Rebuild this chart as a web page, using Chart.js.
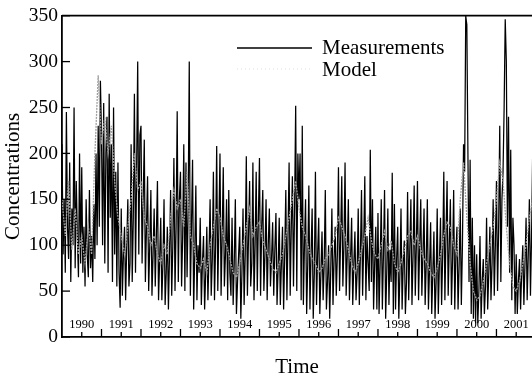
<!DOCTYPE html>
<html>
<head>
<meta charset="utf-8">
<script src="https://cdn.jsdelivr.net/npm/chart.js@4/dist/chart.umd.min.js"></script>
<style>
html,body{margin:0;padding:0;background:#fff;}
#wrap{width:532px;height:380px;position:relative;}
</style>
</head>
<body>
<div id="wrap"><canvas id="c" width="532" height="380"></canvas></div>
<script>
// ---- data ----
const startYear = 1990;
const measStep = 1 / 36;   // three samples per month
const modelStep = 1 / 12;  // one sample per month
const yearLabels = ['1990','1991','1992','1993','1994','1995','1996','1997','1998','1999','2000','2001'];
const yTickValues = [0, 50, 100, 150, 200, 250, 300, 350];
const legendLabels = ['Measurements', 'Model'];

const measurements = [
  // 1990
  210, 90, 150, 70, 245, 120, 85, 190, 60, 140, 100, 250, 75, 170, 110, 65, 200, 80,
  185, 70, 120, 55, 150, 90, 65, 160, 75, 110, 60, 145, 85, 200, 100, 230, 120, 279,
  // 1991
  220, 100, 255, 80, 200, 240, 70, 265, 130, 210, 60, 250, 90, 180, 55, 190, 70, 32,
  140, 45, 90, 120, 40, 100, 150, 55, 80, 210, 60, 130, 265, 70, 180, 300, 90, 220,
  // 1992
  230, 80, 150, 215, 60, 120, 175, 50, 100, 160, 45, 90, 140, 55, 110, 170, 40, 85,
  130, 40, 80, 150, 35, 70, 120, 30, 90, 160, 45, 100, 195, 50, 120, 246, 60, 150,
  // 1993
  180, 55, 110, 210, 50, 190, 65, 140, 300, 45, 120, 193, 30, 90, 165, 40, 100, 70,
  130, 35, 80, 110, 30, 70, 120, 40, 90, 150, 45, 85, 180, 40, 100, 208, 50, 120,
  // 1994
  200, 45, 110, 185, 55, 90, 150, 40, 160, 70, 45, 130, 35, 80, 150, 25, 60, 90,
  120, 20, 70, 140, 35, 90, 197, 45, 110, 170, 55, 80, 190, 40, 100, 180, 50, 130,
  // 1995
  195, 45, 120, 160, 50, 90, 150, 40, 100, 140, 55, 85, 125, 45, 95, 135, 35, 75,
  130, 35, 80, 120, 30, 90, 160, 40, 110, 190, 45, 120, 175, 55, 140, 252, 50, 200,
  // 1996
  150, 200, 40, 230, 35, 100, 150, 25, 80, 165, 30, 90, 140, 20, 70, 180, 35, 90,
  130, 25, 70, 115, 40, 80, 160, 30, 60, 100, 20, 75, 140, 35, 85, 120, 45, 90,
  // 1997
  185, 50, 110, 175, 55, 100, 190, 45, 90, 150, 40, 85, 130, 35, 80, 115, 40, 70,
  140, 35, 90, 160, 45, 100, 175, 40, 110, 80, 50, 204, 60, 150, 30, 80, 120, 30,
  // 1998
  135, 25, 80, 150, 30, 90, 160, 20, 70, 140, 35, 95, 60, 179, 25, 145, 30, 85,
  120, 20, 70, 140, 30, 80, 105, 25, 60, 158, 40, 95, 150, 35, 90, 165, 45, 100,
  // 1999
  170, 40, 100, 150, 45, 90, 140, 35, 80, 150, 30, 75, 125, 25, 70, 115, 20, 60,
  140, 25, 80, 130, 35, 90, 180, 40, 110, 170, 45, 100, 150, 35, 85, 160, 30, 90,
  // 2000
  120, 30, 80, 140, 35, 100, 210, 180, 350, 340, 200, 60, 193, 25, 130, 20, 100, 15,
  90, 15, 50, 110, 20, 60, 85, 25, 55, 130, 30, 70, 120, 40, 80, 150, 45, 100,
  // 2001
  170, 50, 120, 230, 60, 150, 180, 250, 346, 300, 120, 240, 70, 204, 40, 130, 100, 25,
  90, 25, 60, 85, 30, 70, 100, 35, 80, 130, 40, 90, 150, 45, 110, 200, 50, 130
];

const model = [
  150, 110, 170, 95, 140, 90,
  110, 80, 120, 90, 200, 285,
  210, 240, 200, 230, 170, 130,
  110, 90, 120, 150, 200, 160,
  170, 130, 120, 100, 110, 90,
  80, 100, 90, 130, 160, 140,
  150, 120, 180, 110, 100, 80,
  75, 85, 70, 100, 120, 140,
  130, 110, 100, 85, 70, 65,
  80, 100, 120, 140, 110, 120,
  125, 105, 95, 85, 75, 70,
  80, 90, 110, 130, 150, 170,
  140, 120, 110, 95, 85, 80,
  70, 75, 85, 90, 100, 110,
  130, 120, 110, 95, 80, 70,
  80, 95, 110, 130, 105, 90,
  85, 100, 115, 95, 105, 80,
  70, 80, 95, 110, 115, 100,
  110, 95, 85, 80, 70, 65,
  75, 90, 110, 125, 120, 100,
  90, 150, 190, 130, 80, 50,
  40, 45, 60, 80, 100, 120,
  150, 190, 170, 120, 80, 55,
  50, 60, 80, 100, 130, 150
];

// ---- build series ----
const measPoints = measurements.map((v, i) => ({ x: startYear + i * measStep, y: v }));
const modelPoints = model.map((v, i) => ({ x: startYear + i * modelStep, y: v }));

const SERIF = "'Liberation Serif', 'DejaVu Serif', serif";

const decor = {
  id: 'decor',
  afterDatasetsDraw(chart) {
    const { ctx, chartArea: a, scales } = chart;
    const xs = scales.x, ys = scales.y;
    ctx.save();
    ctx.strokeStyle = '#000';
    ctx.fillStyle = '#000';
    // top frame line
    ctx.lineWidth = 1.8;
    ctx.beginPath();
    ctx.moveTo(a.left, a.top);
    ctx.lineTo(a.right, a.top);
    ctx.stroke();
    // inward y ticks
    ctx.lineWidth = 1.3;
    yTickValues.forEach(v => {
      const py = ys.getPixelForValue(v);
      ctx.beginPath();
      ctx.moveTo(a.left, py);
      ctx.lineTo(a.left + 8, py);
      ctx.stroke();
    });
    // inward x ticks (half-years)
    for (let t = startYear + 0.5; t <= xs.max; t += 0.5) {
      const px = xs.getPixelForValue(t);
      const len = Number.isInteger(t) ? 8 : 5;
      ctx.beginPath();
      ctx.moveTo(px, a.bottom);
      ctx.lineTo(px, a.bottom - len);
      ctx.stroke();
    }
    // year labels inside plot
    ctx.font = '12.5px ' + SERIF;
    ctx.textAlign = 'center';
    ctx.textBaseline = 'middle';
    ctx.fillStyle = '#000';
    yearLabels.forEach((lab, i) => {
      const px = xs.getPixelForValue(startYear + i + 0.5);
      ctx.fillText(lab, px, 325);
    });
    // legend
    ctx.lineWidth = 1.5;
    ctx.strokeStyle = '#000';
    ctx.beginPath();
    ctx.moveTo(237, 48);
    ctx.lineTo(312, 48);
    ctx.stroke();
    ctx.strokeStyle = '#ddd';
    ctx.lineWidth = 1;
    ctx.setLineDash([1, 3]);
    ctx.beginPath();
    ctx.moveTo(237, 69);
    ctx.lineTo(312, 69);
    ctx.stroke();
    ctx.setLineDash([]);
    ctx.font = '21px ' + SERIF;
    ctx.textAlign = 'left';
    ctx.fillStyle = '#000';
    ctx.fillText(legendLabels[0], 322, 48);
    ctx.fillText(legendLabels[1], 322, 70);
    ctx.restore();
  }
};

new Chart(document.getElementById('c'), {
  type: 'line',
  data: {
    datasets: [
      {
        label: legendLabels[1],
        data: modelPoints,
        borderColor: '#a0a0a0',
        borderWidth: 1.3,
        borderDash: [2, 1],
        pointRadius: 0,
        tension: 0,
        fill: false
      },
      {
        label: legendLabels[0],
        data: measPoints,
        borderColor: '#000',
        borderWidth: 1.25,
        pointRadius: 0,
        tension: 0,
        fill: false
      }
    ]
  },
  options: {
    responsive: false,
    animation: false,
    layout: { padding: { top: 11, right: 0, left: 0, bottom: 0 } },
    plugins: { legend: { display: false }, tooltip: { enabled: false } },
    scales: {
      x: {
        type: 'linear',
        min: 1990,
        max: 2001.9,
        grid: { display: false, drawTicks: false },
        border: { display: true, color: '#000', width: 1.8 },
        ticks: { display: false },
        title: {
          display: true,
          text: 'Time',
          color: '#000',
          font: { family: SERIF, size: 21 },
          padding: { top: 0, bottom: 0 }
        },
        afterFit(scale) { scale.height = 43; }
      },
      y: {
        min: 0,
        max: 350,
        grid: { display: false, drawTicks: false },
        border: { display: true, color: '#000', width: 1.8 },
        ticks: {
          stepSize: 50,
          padding: 4,
          color: '#000',
          font: { family: SERIF, size: 19.5 }
        },
        title: {
          display: true,
          text: 'Concentrations',
          color: '#000',
          font: { family: SERIF, size: 21 },
          padding: { top: 1, bottom: 0 }
        },
        afterFit(scale) { scale.width = 62; }
      }
    }
  },
  plugins: [decor]
});
</script>
</body>
</html>
